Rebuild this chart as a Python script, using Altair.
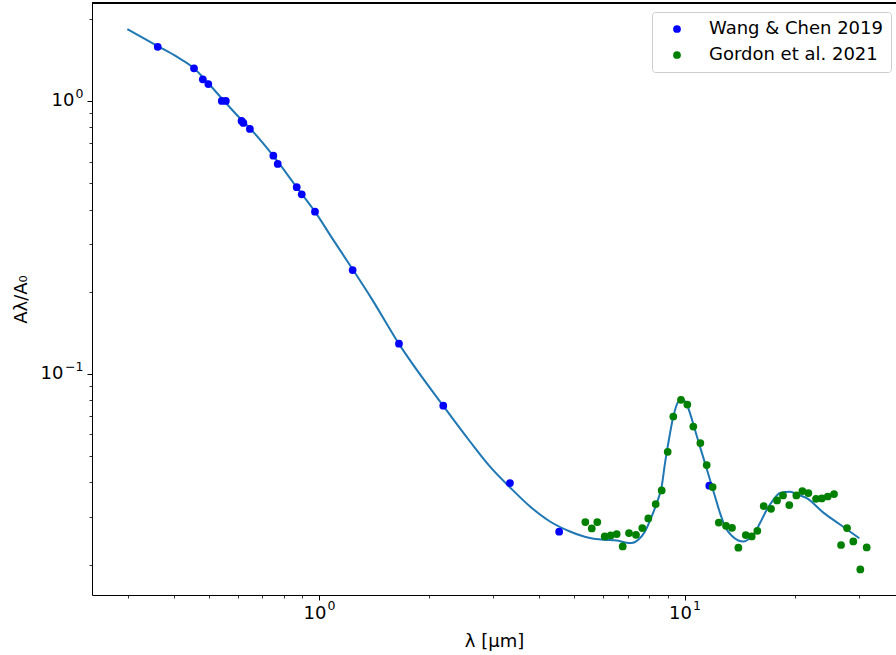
import altair as alt
import pandas as pd

# ---- data ----
wang_lam = [0.362, 0.455, 0.481, 0.498, 0.542, 0.556, 0.614, 0.621, 0.647, 0.750,
            0.771, 0.869, 0.897, 0.975, 1.236, 1.655, 2.188, 3.33, 4.54, 11.69]
wang_A = [1.58, 1.318, 1.20, 1.154, 1.0, 1.0, 0.845, 0.831, 0.790, 0.630,
          0.588, 0.483, 0.455, 0.393, 0.240, 0.129, 0.0764, 0.0398, 0.0264, 0.0389]

gordon_lam = [5.354, 5.575, 5.773, 6.049, 6.282, 6.524, 6.775, 7.050, 7.366, 7.664,
              7.961, 8.340, 8.661, 8.995, 9.319, 9.781, 10.18, 10.57, 11.05, 11.50,
              11.94, 12.41, 12.99, 13.49, 14.04, 14.71, 15.27, 15.82, 16.47, 17.25,
              17.91, 18.60, 19.35, 20.23, 21.01, 21.82, 22.90, 23.74, 24.65, 25.65,
              26.81, 27.84, 28.96, 30.27, 31.51]
gordon_A = [0.02862, 0.02712, 0.02862, 0.02535, 0.02557, 0.02588, 0.02331, 0.02609, 0.02572, 0.02721,
            0.02951, 0.03332, 0.03737, 0.05180, 0.06977, 0.08032, 0.07718, 0.06412, 0.05573, 0.04630,
            0.03846, 0.02852, 0.02774, 0.02727, 0.02305, 0.02565, 0.02535, 0.02660, 0.03276, 0.03201,
            0.03435, 0.03583, 0.03304, 0.03583, 0.03718, 0.03656, 0.03484, 0.03493, 0.03552, 0.03625,
            0.02359, 0.02721, 0.02431, 0.01919, 0.02311]

model_lam = [0.299, 0.362, 0.408, 0.455, 0.498, 0.547, 0.614, 0.647, 0.750, 0.869,
             0.975, 1.094, 1.236, 1.394, 1.655, 2.188, 2.589, 2.937, 3.332, 3.779,
             4.285, 4.860, 5.514, 5.996, 6.524, 6.875, 7.171, 7.474, 7.797, 8.134,
             8.394, 8.661, 8.844, 9.030, 9.320, 9.617, 9.825, 10.09, 10.35, 10.68,
             11.02, 11.38, 11.74, 12.12, 12.51, 12.91, 13.47, 14.04, 14.49, 15.11,
             15.43, 16.09, 16.79, 17.50, 18.25, 19.44, 20.48, 21.60, 23.98, 26.64, 30.08]
model_A = [1.835, 1.590, 1.453, 1.318, 1.161, 1.008, 0.852, 0.794, 0.629, 0.483,
           0.393, 0.3096, 0.2417, 0.1883, 0.1288, 0.0763, 0.0565, 0.0457, 0.03834, 0.03265,
           0.02877, 0.02644, 0.02501, 0.02465, 0.02451, 0.02410, 0.02398, 0.02465, 0.02644, 0.03001,
           0.03360, 0.03866, 0.04709, 0.05573, 0.06977, 0.07917, 0.08078, 0.07851, 0.07178, 0.06235,
           0.05415, 0.04709, 0.04090, 0.03552, 0.03088, 0.02758, 0.02550, 0.02451, 0.02430, 0.02501,
           0.02572, 0.02838, 0.03176, 0.03455, 0.03656, 0.03697, 0.03604, 0.03505, 0.03101, 0.02805, 0.02498]

series_names = ["Wang & Chen 2019", "Gordon et al. 2021"]
series_colors = ["blue", "green"]

x_domain = [0.2393, 37.90]
y_domain = [0.01547, 2.286]
x_major = [1, 10]
y_major = [0.1, 1]
x_minor = [0.3, 0.4, 0.5, 0.6, 0.7, 0.8, 0.9, 2, 3, 4, 5, 6, 7, 8, 9, 20, 30]
y_minor = [0.02, 0.03, 0.04, 0.05, 0.06, 0.07, 0.08, 0.09,
           0.2, 0.3, 0.4, 0.5, 0.6, 0.7, 0.8, 0.9, 2]

pts = pd.DataFrame({
    "lam": wang_lam + gordon_lam,
    "A": wang_A + gordon_A,
    "series": [series_names[0]] * len(wang_lam) + [series_names[1]] * len(gordon_lam),
})
model = pd.DataFrame({"lam": model_lam, "A": model_A})

W, H = 804, 592
FONT = "DejaVu Sans"
FS = 18
EXP_FS = 12.5

xscale = alt.Scale(type="log", domain=x_domain, nice=False, zero=False)
yscale = alt.Scale(type="log", domain=y_domain, nice=False, zero=False)

major_common = dict(grid=False, domainColor="black", domainWidth=1, tickColor="black",
                    tickWidth=1, tickSize=5, labelFont=FONT, labelFontSize=FS,
                    labelColor="black", titleFont=FONT, titleFontSize=FS,
                    titleColor="black", titleFontWeight="normal")
minor_common = dict(grid=False, domain=False, labels=False, tickColor="black",
                    tickWidth=0.8, tickSize=3, title=None)
exp_common = dict(grid=False, domain=False, ticks=True, tickOpacity=0, tickSize=5,
                  labelFont=FONT, labelFontSize=EXP_FS, labelColor="black", title=None)

# model curve + major ticks with the "10" part of the labels
line = alt.Chart(model).mark_line(color="#1f77b4", strokeWidth=2, interpolate="monotone").encode(
    x=alt.X("lam:Q", scale=xscale,
            axis=alt.Axis(orient="bottom", values=x_major, labelExpr="'10'",
                          labelAlign="right", labelOffset=7, labelPadding=4,
                          title="λ [μm]", titlePadding=10, **major_common)),
    y=alt.Y("A:Q", scale=yscale,
            axis=alt.Axis(orient="left", values=y_major, labelExpr="'10'",
                          labelPadding={"condition": {"test": "datum.value < 0.5", "value": 24},
                                        "value": 13},
                          title="Aλ/A₀", titlePadding=10, **major_common)),
)

# exponent part of the tick labels
exps = alt.Chart(model).mark_circle(opacity=0).encode(
    x=alt.X("lam:Q", scale=xscale,
            axis=alt.Axis(orient="bottom", values=x_major,
                          labelExpr="datum.value < 5 ? '0' : '1'",
                          labelAlign="left", labelOffset=8, labelPadding=-1,
                          **exp_common)),
    y=alt.Y("A:Q", scale=yscale,
            axis=alt.Axis(orient="left", values=y_major,
                          labelExpr="datum.value < 0.5 ? '−1' : '0'",
                          labelAlign="right", labelOffset=-7, labelPadding=4,
                          **exp_common)),
)

points = alt.Chart(pts).mark_circle(size=60, opacity=1).encode(
    x=alt.X("lam:Q", scale=xscale, axis=alt.Axis(orient="bottom", values=x_minor, **minor_common)),
    y=alt.Y("A:Q", scale=yscale, axis=alt.Axis(orient="left", values=y_minor, **minor_common)),
    color=alt.Color("series:N",
                    scale=alt.Scale(domain=series_names, range=series_colors),
                    sort=series_names,
                    legend=alt.Legend(title=None, orient="none", legendX=560, legendY=9,
                                      labelFont=FONT, labelFontSize=FS, labelColor="black",
                                      labelLimit=400,
                                      symbolType="circle", symbolSize=60,
                                      symbolOffset=8, labelOffset=23, rowPadding=8,
                                      padding=8, strokeColor="#cccccc", cornerRadius=3,
                                      fillColor="white")),
)

top_border = alt.Chart(model).mark_rule(color="black", strokeWidth=1).encode(
    x=alt.value(0), x2=alt.value(W), y=alt.value(0)
)

chart = alt.layer(line, exps, points, top_border).resolve_axis(
    x="independent", y="independent"
).properties(
    width=W, height=H,
    autosize=alt.AutoSizeParams(type="none"),
    padding={"left": 92, "top": 3, "right": 0, "bottom": 60},
).configure_view(strokeWidth=0)

chart.save("out.html", embed_options={"renderer": "svg", "actions": False})
